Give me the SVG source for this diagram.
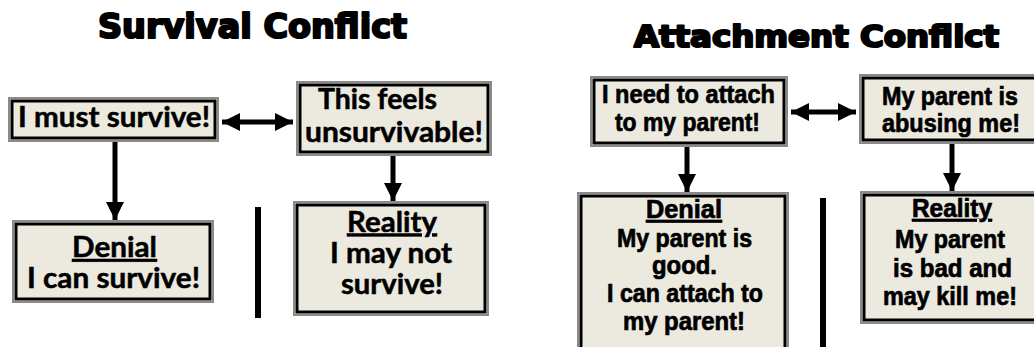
<svg xmlns="http://www.w3.org/2000/svg" width="1034" height="347" viewBox="0 0 1034 347">
<style>
.outer{fill:#ECE9DF;stroke:#8a8a8a;stroke-width:2}
.inner{fill:none;stroke:#000;stroke-width:3}
.title{font-family:"DejaVu Sans","Liberation Sans",sans-serif;font-weight:bold;fill:#000;stroke:#000;stroke-width:2.2;stroke-linejoin:round;text-anchor:middle}
.lt{font-family:Lato,"Open Sans","Liberation Sans",sans-serif;font-weight:bold;font-size:28px;fill:#000;stroke:#000;stroke-width:0.5;text-anchor:middle}
.rt{font-family:"Liberation Sans Narrow","Liberation Sans",sans-serif;font-weight:bold;font-size:26px;fill:#000;stroke:#000;stroke-width:0.7;text-anchor:middle}
.sm{font-size:25px}
.u{text-decoration:underline}
.conn{stroke:#000;stroke-width:5;fill:none}
.bar{fill:#000}
</style>
<defs>
<marker id="ah" markerUnits="userSpaceOnUse" markerWidth="20" markerHeight="20" viewBox="0 0 20 20" refX="18" refY="10" orient="auto-start-reverse">
<path d="M0,1 L18,10 L0,19 Z" fill="#000"/>
</marker>
</defs>
<rect width="1034" height="347" fill="#fff"/>
<text class="title" x="252.5" y="38" font-size="34" textLength="309" lengthAdjust="spacingAndGlyphs">Survival Conflict</text>
<text class="title" x="816.5" y="47" font-size="30" textLength="365" lengthAdjust="spacingAndGlyphs">Attachment Conflict</text>

<g id="connectors">
<line class="conn" x1="222" y1="122" x2="293" y2="122" marker-start="url(#ah)" marker-end="url(#ah)"/>
<line class="conn" x1="115" y1="142" x2="115" y2="220" marker-end="url(#ah)"/>
<line class="conn" x1="393" y1="156" x2="393" y2="201" marker-end="url(#ah)"/>
<line class="conn" x1="791" y1="112" x2="856" y2="112" marker-start="url(#ah)" marker-end="url(#ah)"/>
<line class="conn" x1="687" y1="147" x2="687" y2="192" marker-end="url(#ah)"/>
<line class="conn" x1="952" y1="144" x2="952" y2="191" marker-end="url(#ah)"/>
</g>

<g id="dividers">
<rect class="bar" x="255" y="207" width="6" height="111"/>
<rect class="bar" x="820" y="198" width="6" height="150"/>
</g>

<g id="must-survive">
<rect class="outer" x="9" y="98" width="209" height="43"/>
<rect class="inner" x="12" y="101" width="203" height="37"/>
<text class="lt" x="114" y="127" textLength="192" lengthAdjust="spacingAndGlyphs">I must survive!</text>
</g>

<g id="unsurvivable">
<rect class="outer" x="297" y="82" width="194" height="73"/>
<rect class="inner" x="300" y="85" width="188" height="67"/>
<text class="lt" x="377.5" y="109" textLength="119" lengthAdjust="spacingAndGlyphs">This feels</text>
<text class="lt" x="394" y="142" textLength="178" lengthAdjust="spacingAndGlyphs">unsurvivable!</text>
</g>

<g id="denial-survival">
<rect class="outer" x="13" y="221" width="200" height="81"/>
<rect class="inner" x="16" y="224" width="194" height="75"/>
<text class="lt u" x="114.5" y="257" textLength="85" lengthAdjust="spacingAndGlyphs">Denial</text>
<text class="lt" x="113.5" y="288" textLength="173" lengthAdjust="spacingAndGlyphs">I can survive!</text>
</g>

<g id="reality-survival">
<rect class="outer" x="294" y="202" width="194" height="113"/>
<rect class="inner" x="297" y="205" width="188" height="107"/>
<text class="lt u" x="392" y="231.5" font-size="25" textLength="90" lengthAdjust="spacingAndGlyphs">Reality</text>
<text class="lt" x="391" y="262.5" font-size="25" textLength="122" lengthAdjust="spacingAndGlyphs">I may not</text>
<text class="lt" x="392" y="294" font-size="25" textLength="102" lengthAdjust="spacingAndGlyphs">survive!</text>
</g>

<g id="need-attach">
<rect class="outer" x="591" y="77" width="196" height="69"/>
<rect class="inner" x="594" y="80" width="190" height="63"/>
<text class="rt" x="688.5" y="103" textLength="173" lengthAdjust="spacingAndGlyphs">I need to attach</text>
<text class="rt" x="687.5" y="131" textLength="145" lengthAdjust="spacingAndGlyphs">to my parent!</text>
</g>

<g id="parent-abusing">
<rect class="outer" x="860" y="75" width="180" height="68"/>
<rect class="inner" x="863" y="78" width="174" height="62"/>
<text class="rt" x="950" y="105" textLength="136" lengthAdjust="spacingAndGlyphs">My parent is</text>
<text class="rt" x="951" y="132" textLength="138" lengthAdjust="spacingAndGlyphs">abusing me!</text>
</g>

<g id="denial-attachment">
<rect class="outer" x="578" y="193" width="210" height="165"/>
<rect class="inner" x="581" y="196" width="204" height="159"/>
<text class="rt sm u" x="684" y="218" textLength="76" lengthAdjust="spacingAndGlyphs">Denial</text>
<text class="rt sm" x="684.5" y="247" textLength="135" lengthAdjust="spacingAndGlyphs">My parent is</text>
<text class="rt sm" x="684.5" y="274" textLength="65" lengthAdjust="spacingAndGlyphs">good.</text>
<text class="rt sm" x="685" y="302" textLength="156" lengthAdjust="spacingAndGlyphs">I can attach to</text>
<text class="rt sm" x="684" y="330" textLength="122" lengthAdjust="spacingAndGlyphs">my parent!</text>
</g>

<g id="reality-attachment">
<rect class="outer" x="861" y="192" width="180" height="131"/>
<rect class="inner" x="864" y="195" width="174" height="125"/>
<text class="rt sm u" x="952" y="217" textLength="80" lengthAdjust="spacingAndGlyphs">Reality</text>
<text class="rt sm" x="950" y="248" textLength="110" lengthAdjust="spacingAndGlyphs">My parent</text>
<text class="rt sm" x="952.5" y="277" textLength="119" lengthAdjust="spacingAndGlyphs">is bad and</text>
<text class="rt sm" x="950" y="305" textLength="134" lengthAdjust="spacingAndGlyphs">may kill me!</text>
</g>
</svg>
